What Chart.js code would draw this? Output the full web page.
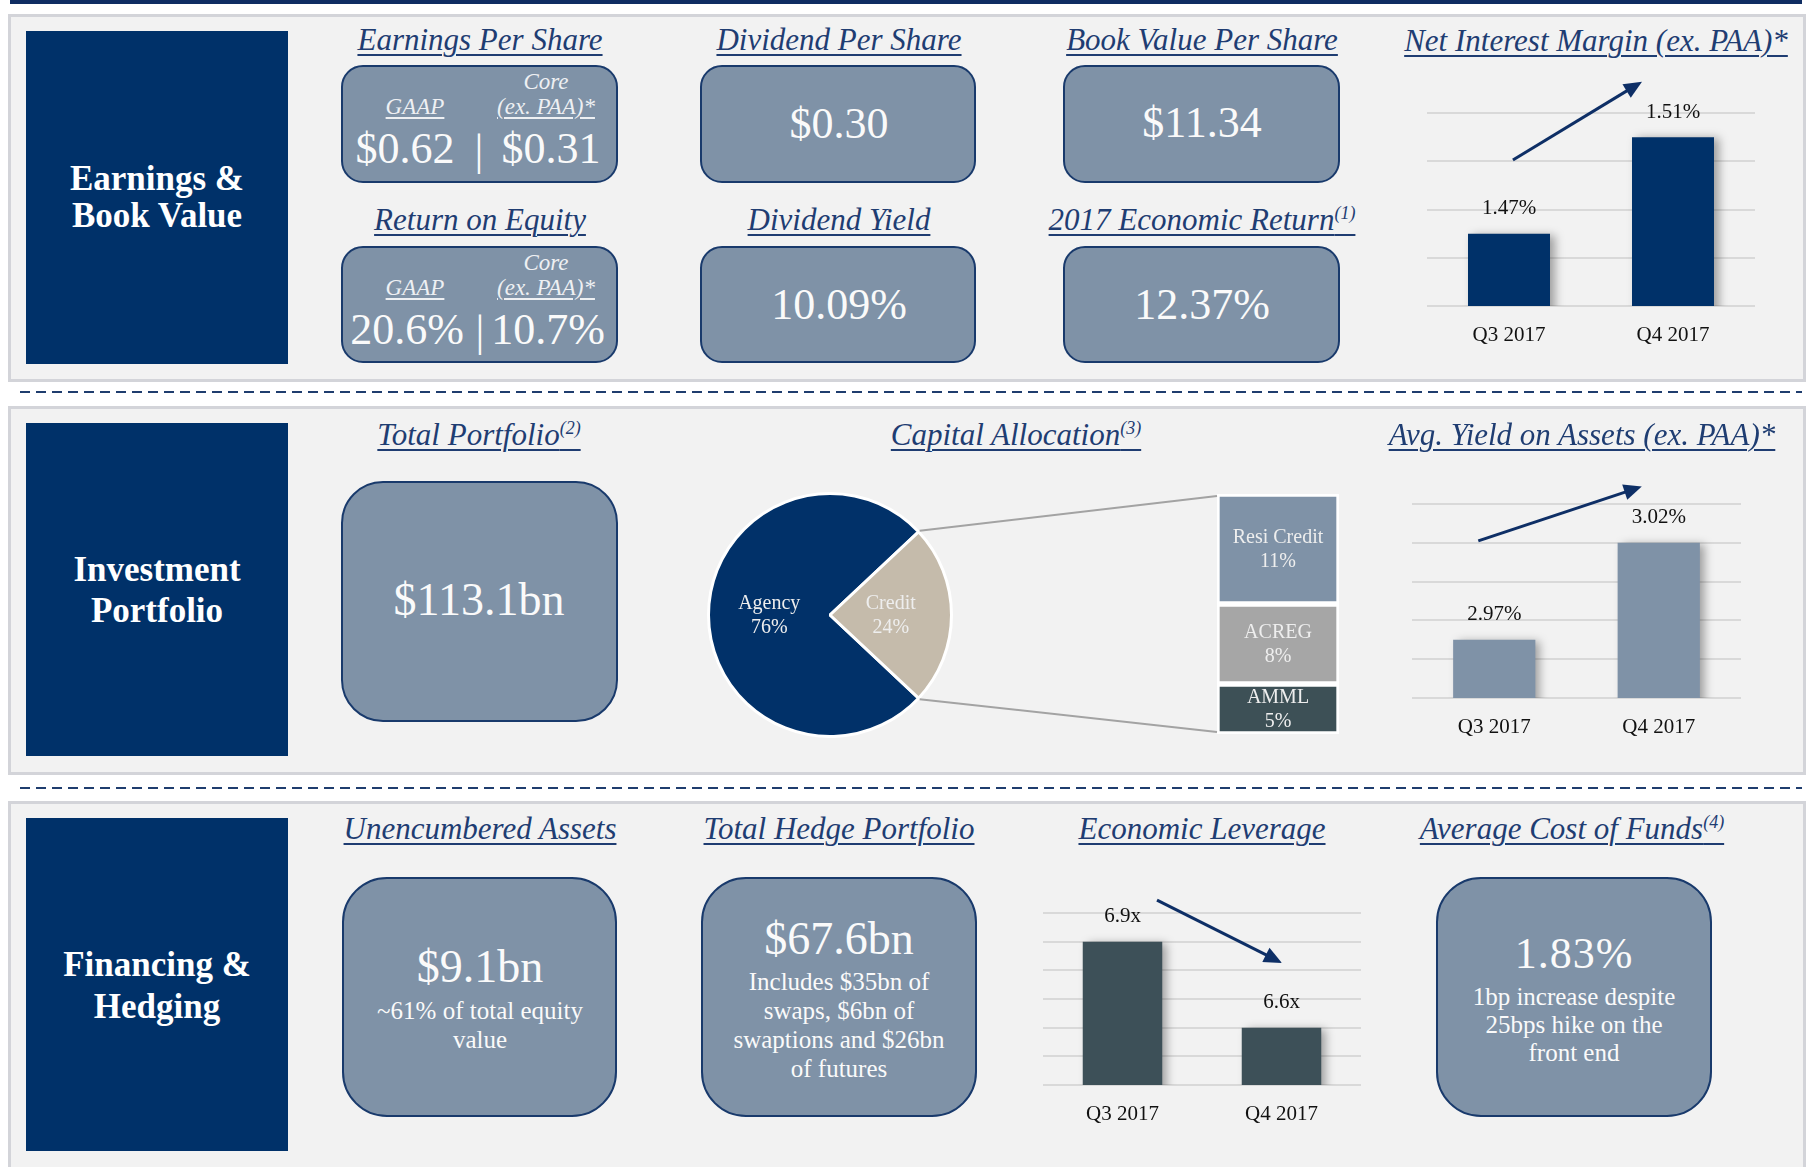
<!DOCTYPE html>
<html>
<head>
<meta charset="utf-8">
<script src="https://cdn.jsdelivr.net/npm/chart.js@4.4.1/dist/chart.umd.min.js"></script>
<style>
body{margin:0;width:1814px;height:1167px;overflow:hidden;background:#fff;position:relative;font-family:'Liberation Serif',serif}
.abs{position:absolute}
.panel{position:absolute;left:8px;width:1798px;background:#f2f2f2;border:3px solid #d3d4d9;box-sizing:border-box}
.navy{position:absolute;left:26px;width:262px;background:#003169}
.dash{position:absolute;left:20px;width:1782px;height:2px;background:repeating-linear-gradient(90deg,#1f3d6e 0 10px,transparent 10px 16px)}
.box{position:absolute;background:#7f92a7;border:2px solid #193a6c;box-sizing:border-box}
.ttl{color:#1f3d72;font-style:italic;text-decoration:underline;text-decoration-thickness:2px;text-underline-offset:4px}
.ttl sup{font-size:18px;vertical-align:11px;line-height:0}
.lbl{color:#fff;font-weight:bold}
.sm{color:#eef0f3;font-style:italic}
.ul{text-decoration:underline;text-decoration-thickness:1.5px;text-underline-offset:3px}
.val{color:#fafafa}
canvas{position:absolute}
</style>
</head>
<body>
<div class="abs" style="left:10px;top:0;width:1792px;height:4px;background:#0f2d62"></div>
<div class="panel" style="top:14px;height:368px"></div>
<div class="dash" style="top:391px"></div>
<div class="panel" style="top:406px;height:369px"></div>
<div class="dash" style="top:787px"></div>
<div class="panel" style="top:801px;height:380px"></div>

<div class="navy" style="top:31px;height:333px"></div>
<div class="navy" style="top:423px;height:333px"></div>
<div class="navy" style="top:818px;height:333px"></div>

<div class="box" style="left:341px;top:65px;width:277px;height:118px;border-radius:22px"></div>
<div class="box" style="left:341px;top:246px;width:277px;height:117px;border-radius:22px"></div>
<div class="box" style="left:700px;top:65px;width:276px;height:118px;border-radius:22px"></div>
<div class="box" style="left:700px;top:246px;width:276px;height:117px;border-radius:22px"></div>
<div class="box" style="left:1063px;top:65px;width:277px;height:118px;border-radius:22px"></div>
<div class="box" style="left:1063px;top:246px;width:277px;height:117px;border-radius:22px"></div>
<div class="box" style="left:341px;top:481px;width:277px;height:241px;border-radius:42px"></div>
<div class="box" style="left:342px;top:877px;width:275px;height:240px;border-radius:45px"></div>
<div class="box" style="left:701px;top:877px;width:276px;height:240px;border-radius:45px"></div>
<div class="box" style="left:1436px;top:877px;width:276px;height:240px;border-radius:45px"></div>

<canvas id="nim" width="328" height="301" style="left:1427px;top:60px;width:328px;height:301px"></canvas>
<canvas id="yield" width="329" height="302" style="left:1412px;top:451px;width:329px;height:302px"></canvas>
<canvas id="lev" width="318" height="280" style="left:1043px;top:860px;width:318px;height:280px"></canvas>
<canvas id="pie" width="246" height="246" style="left:707px;top:492px;width:246px;height:246px"></canvas>
<canvas id="stack" width="122" height="240" style="left:1217px;top:494px;width:122px;height:240px"></canvas>

<script>
// valores del gráfico
var quarters = ["Q3 2017", "Q4 2017"]
var nimValues = [1.47, 1.51]
var nimAxis = [1.44, 1.52, 0.02]
var yieldValues = [2.97, 3.02]
var yieldAxis = [2.94, 3.04, 0.02]
var leverageValues = [6.9, 6.6]
var leverageAxis = [6.4, 7.0, 0.1]
var allocLabels = ["Agency", "Credit"]
var allocValues = [76, 24]
var creditLabels = ["AMML", "ACREG", "Resi Credit"]
var creditValues = [5, 8, 11]

var serif = "'Liberation Serif', serif"
Chart.defaults.font.family = serif

// texto posicionado por su centro
function put(html, x, y, size, cls, css){
    var d = document.createElement("div")
    d.className = "abs " + (cls || "")
    d.innerHTML = html
    d.style.left = x + "px"
    d.style.top = (y - size / 2) + "px"
    d.style.fontSize = size + "px"
    d.style.lineHeight = size + "px"
    d.style.transform = "translateX(-50%)"
    d.style.whiteSpace = "nowrap"
    if (css) d.style.cssText += css
    document.body.appendChild(d)
}
function title(html, x, uy){ put(html, x, uy - 14, 31, "ttl") }

title("Earnings Per Share", 480, 53)
title("Dividend Per Share", 839, 53)
title("Book Value Per Share", 1202, 53)
title("Net Interest Margin (ex. PAA)*", 1596, 54)
title("Return on Equity", 480, 233)
title("Dividend Yield", 839, 233)
title("2017 Economic Return<sup>(1)</sup>", 1202, 233)
title("Total Portfolio<sup>(2)</sup>", 479, 448)
title("Capital Allocation<sup>(3)</sup>", 1016, 448)
title("Avg. Yield on Assets (ex. PAA)*", 1582, 448)
title("Unencumbered Assets", 480, 842)
title("Total Hedge Portfolio", 839, 842)
title("Economic Leverage", 1202, 842)
title("Average Cost of Funds<sup>(4)</sup>", 1572, 842)

put("Earnings &amp;", 157, 178, 35, "lbl")
put("Book Value", 157, 215, 35, "lbl")
put("Investment", 157, 569, 35, "lbl")
put("Portfolio", 157, 610, 35, "lbl")
put("Financing &amp;", 157, 964, 35, "lbl")
put("Hedging", 157, 1006, 35, "lbl")

put("Core", 546, 81, 23, "sm")
put("GAAP", 415, 106, 23, "sm ul")
put("(ex. PAA)*", 546, 106, 23, "sm ul")
put("$0.62", 405, 149, 44, "val")
put("|", 479, 151, 44, "val")
put("$0.31", 551, 149, 44, "val")
put("Core", 546, 262, 23, "sm")
put("GAAP", 415, 287, 23, "sm ul")
put("(ex. PAA)*", 546, 287, 23, "sm ul")
put("20.6%", 407, 330, 44, "val")
put("|", 480, 332, 44, "val")
put("10.7%", 548, 330, 44, "val")
put("$0.30", 839, 124, 44, "val")
put("10.09%", 839, 305, 44, "val")
put("$11.34", 1202, 123, 44, "val")
put("12.37%", 1202, 305, 44, "val")
put("$113.1bn", 479, 600, 46, "val")
put("$9.1bn", 480, 967, 46, "val")
put("~61% of total equity", 480, 1010, 25, "val")
put("value", 480, 1039, 25, "val")
put("$67.6bn", 839, 939, 46, "val")
put("Includes $35bn of", 839, 981, 25, "val")
put("swaps, $6bn of", 839, 1010, 25, "val")
put("swaptions and $26bn", 839, 1039, 25, "val")
put("of futures", 839, 1068, 25, "val")
put("1.83%", 1574, 954, 44, "val", "letter-spacing:1px")
put("1bp increase despite", 1574, 996, 25, "val")
put("25bps hike on the", 1574, 1024, 25, "val")
put("front end", 1574, 1052, 25, "val")

// sombra suave detrás de las barras
var barShadow = {
    id: "barShadow",
    beforeDatasetsDraw: function(chart){
        var c = chart.ctx
        c.save()
        c.shadowColor = "rgba(0,0,0,0.35)"
        c.shadowBlur = 9
        c.shadowOffsetX = 5
        c.shadowOffsetY = 1
    },
    afterDatasetsDraw: function(chart){ chart.ctx.restore() }
}

// etiqueta de valor encima de cada barra
var valueLabel = {
    id: "valueLabel",
    afterDraw: function(chart, args, opts){
        var c = chart.ctx
        var data = chart.data.datasets[0].data
        c.save()
        c.fillStyle = "#111"
        c.font = "21px " + serif
        c.textAlign = "center"
        c.textBaseline = "middle"
        chart.getDatasetMeta(0).data.forEach(function(bar, i){
            c.fillText(data[i].toFixed(opts.digits) + opts.suffix, bar.x, bar.y - 25)
        })
        c.restore()
    }
}

// flecha de tendencia, en unidades de las escalas
var arrow = {
    id: "arrow",
    afterDraw: function(chart, args, o){
        var xs = chart.scales.x, ys = chart.scales.y, c = chart.ctx
        var x1 = xs.getPixelForValue(o.fx), y1 = ys.getPixelForValue(o.fv)
        var x2 = xs.getPixelForValue(o.tx), y2 = ys.getPixelForValue(o.tv)
        var a = Math.atan2(y2 - y1, x2 - x1), L = 18, W = 8
        c.save()
        c.strokeStyle = c.fillStyle = "#0e2f66"
        c.lineWidth = 3
        c.beginPath()
        c.moveTo(x1, y1)
        c.lineTo(x2 - Math.cos(a) * L * 0.8, y2 - Math.sin(a) * L * 0.8)
        c.stroke()
        c.beginPath()
        c.moveTo(x2, y2)
        c.lineTo(x2 - Math.cos(a) * L - Math.sin(a) * W, y2 - Math.sin(a) * L + Math.cos(a) * W)
        c.lineTo(x2 - Math.cos(a) * L + Math.sin(a) * W, y2 - Math.sin(a) * L - Math.cos(a) * W)
        c.closePath()
        c.fill()
        c.restore()
    }
}

function barChart(id, values, color, axis, digits, suffix, arr){
    return new Chart(document.getElementById(id), {
        type: "bar",
        data: {
            labels: quarters,
            datasets: [{ data: values, backgroundColor: color, barPercentage: 0.5, categoryPercentage: 1 }]
        },
        options: {
            responsive: false,
            animation: false,
            layout: { padding: { top: 53 } },
            plugins: {
                legend: { display: false },
                tooltip: { enabled: false },
                valueLabel: { digits: digits, suffix: suffix },
                arrow: arr
            },
            scales: {
                x: {
                    grid: { display: false },
                    border: { display: false },
                    ticks: { color: "#111", font: { size: 21 }, padding: 9 },
                    afterFit: function(s){ s.height = 55 }
                },
                y: {
                    min: axis[0],
                    max: axis[1],
                    ticks: { display: false, stepSize: axis[2] },
                    grid: { color: "#d9d9d9", lineWidth: 2, drawTicks: false },
                    border: { display: false },
                    afterFit: function(s){ s.width = 0 }
                }
            }
        },
        plugins: [barShadow, valueLabel, arrow]
    })
}

barChart("nim", nimValues, "#003169", nimAxis, 2, "%", { fx: 0.024, fv: 1.5005, tx: 0.811, tv: 1.533 })
barChart("yield", yieldValues, "#7f92a7", yieldAxis, 2, "%", { fx: -0.097, fv: 3.021, tx: 0.897, tv: 3.049 })
barChart("lev", leverageValues, "#3d5058", leverageAxis, 1, "x", { fx: 0.217, fv: 7.045, tx: 1.003, tv: 6.826 })

// etiquetas dentro de las porciones / bloques
function innerLabels(){
    return {
        id: "innerLabels",
        afterDraw: function(chart){
            var c = chart.ctx
            c.save()
            c.fillStyle = "#eeeeee"
            c.font = "20px " + serif
            c.textAlign = "center"
            c.textBaseline = "middle"
            chart.data.datasets.forEach(function(ds, di){
                chart.getDatasetMeta(di).data.forEach(function(el, i){
                    var p = el.getCenterPoint()
                    var name = chart.config.type == "pie" ? chart.data.labels[i] : ds.label
                    var v = chart.config.type == "pie" ? ds.data[i] : ds.data[0]
                    c.fillText(name, p.x, p.y - 11)
                    c.fillText(v + "%", p.x, p.y + 13)
                })
            })
            c.restore()
        }
    }
}

var total = allocValues[0] + allocValues[1]
var pie = new Chart(document.getElementById("pie"), {
    type: "pie",
    data: {
        labels: allocLabels,
        datasets: [{ data: allocValues, backgroundColor: ["#013169", "#c5bbab"], borderColor: "#fff", borderWidth: 3 }]
    },
    options: {
        responsive: false,
        animation: false,
        // la porción Credit queda centrada a la derecha
        rotation: 450 - 360 * (allocValues[0] + allocValues[1] / 2) / total,
        plugins: { legend: { display: false }, tooltip: { enabled: false } }
    },
    plugins: [innerLabels()]
})

var creditColors = ["#3d5056", "#a6a6a6", "#7f92a7"]
var creditSum = creditValues.reduce(function(a, b){ return a + b }, 0)
var stack = new Chart(document.getElementById("stack"), {
    type: "bar",
    data: {
        labels: [""],
        datasets: creditLabels.map(function(l, i){
            return { label: l, data: [creditValues[i]], backgroundColor: creditColors[i], borderColor: "#fff",
                     borderWidth: 3, borderSkipped: false, barPercentage: 1, categoryPercentage: 1 }
        })
    },
    options: {
        responsive: false,
        animation: false,
        plugins: { legend: { display: false }, tooltip: { enabled: false } },
        scales: {
            x: { display: false, stacked: true },
            y: { display: false, stacked: true, min: 0, max: creditSum }
        }
    },
    plugins: [innerLabels()]
})

// líneas que unen la porción Credit con la columna
var arc = pie.getDatasetMeta(0).data[1]
var pc = document.getElementById("pie"), sc = document.getElementById("stack")
var cx = pc.offsetLeft + arc.x, cy = pc.offsetTop + arc.y, r = arc.outerRadius + 1.5
var ns = "http://www.w3.org/2000/svg"
var svg = document.createElementNS(ns, "svg")
svg.setAttribute("width", 1814)
svg.setAttribute("height", 1167)
svg.style.cssText = "position:absolute;left:0;top:0;pointer-events:none"
;[[arc.startAngle, stack.chartArea.top], [arc.endAngle, stack.chartArea.bottom]].forEach(function(p){
    var ln = document.createElementNS(ns, "line")
    ln.setAttribute("x1", cx + r * Math.cos(p[0]))
    ln.setAttribute("y1", cy + r * Math.sin(p[0]))
    ln.setAttribute("x2", sc.offsetLeft)
    ln.setAttribute("y2", sc.offsetTop + p[1] + (p[1] > 100 ? -2 : 2))
    ln.setAttribute("stroke", "#a3a3a3")
    ln.setAttribute("stroke-width", 2)
    svg.appendChild(ln)
})
document.body.appendChild(svg)
</script>
</body>
</html>
